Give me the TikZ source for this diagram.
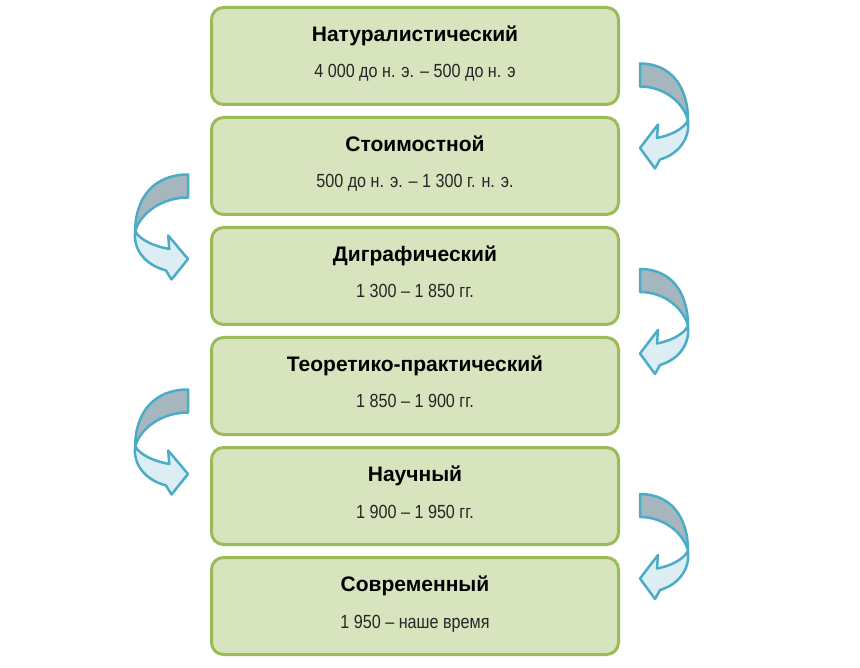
\documentclass[tikz,border=0pt]{standalone}
\usepackage{fontspec}
\setmainfont{Liberation Sans}
\newfontfamily\subfont[FakeStretch=0.85]{Liberation Sans}
\usetikzlibrary{calc}
\definecolor{boxfill}{HTML}{D7E4BD}
\definecolor{boxline}{HTML}{9BBB59}
\definecolor{arrline}{HTML}{4BACC6}
\definecolor{arrdark}{HTML}{A6B6BF}
\definecolor{arrlight}{HTML}{DCEEF4}
\begin{document}
\begin{tikzpicture}[x=1pt,y=-1pt,
  stagebox/.style={draw=boxline, fill=boxfill, line width=3pt, rounded corners=12pt,
    minimum width=407pt, minimum height=97pt, inner sep=0pt},
  ttl/.style={font=\fontsize{21}{25}\selectfont\bfseries, inner sep=0pt, anchor=base},
  sub/.style={font=\fontsize{19}{23}\selectfont\subfont, inner sep=0pt, anchor=base, text=black!85},
  curvarrow/.pic={
    \filldraw[draw=arrline, fill=arrdark, line width=2.5pt, line join=round]
      (0,0) .. controls (30,0) and (48,22) .. (48,57)
      .. controls (44,40) and (25,23) .. (0,23) -- cycle;
    \filldraw[draw=arrline, fill=arrlight, line width=2.5pt, line join=round]
      (48,57) .. controls (50,74) and (40,90) .. (20,96) -- (15,105) -- (0,84.5) -- (18,61) -- (17,74.5)
      .. controls (30,72) and (43,66) .. (48,57) -- cycle;
  }]
\fill[white] (0,0) rectangle (860,668);
\useasboundingbox (0,0) rectangle (860,668);

\node[stagebox] (b1) at (415,56) {};
\node[stagebox] (b2) at (415,166) {};
\node[stagebox] (b3) at (415,276) {};
\node[stagebox] (b4) at (415,386) {};
\node[stagebox] (b5) at (415,496) {};
\node[stagebox] (b6) at (415,606) {};

\node[ttl] (t1) at ($(b1.center)+(0,-14.3)$) {Натуралистический};
\node[sub] (s1) at ($(b1.center)+(0,22)$) {4 000 до н. э. – 500 до н. э};
\node[ttl] (t2) at ($(b2.center)+(0,-14.3)$) {Стоимостной};
\node[sub] (s2) at ($(b2.center)+(0,22)$) {500 до н. э. – 1 300 г. н. э.};
\node[ttl] (t3) at ($(b3.center)+(0,-14.3)$) {Диграфический};
\node[sub] (s3) at ($(b3.center)+(0,22)$) {1 300 – 1 850 гг.};
\node[ttl] (t4) at ($(b4.center)+(0,-14.3)$) {Теоретико-практический};
\node[sub] (s4) at ($(b4.center)+(0,22)$) {1 850 – 1 900 гг.};
\node[ttl] (t5) at ($(b5.center)+(0,-14.3)$) {Научный};
\node[sub] (s5) at ($(b5.center)+(0,22)$) {1 900 – 1 950 гг.};
\node[ttl] (t6) at ($(b6.center)+(0,-14.3)$) {Современный};
\node[sub] (s6) at ($(b6.center)+(0,22)$) {1 950 – наше время};

\pic at (640,63.5) {curvarrow};
\pic[xscale=-1.1] at (188,174.5) {curvarrow};
\pic at (640,269) {curvarrow};
\pic[xscale=-1.1] at (188,389.5) {curvarrow};
\pic at (640,494) {curvarrow};
\end{tikzpicture}
\end{document}
